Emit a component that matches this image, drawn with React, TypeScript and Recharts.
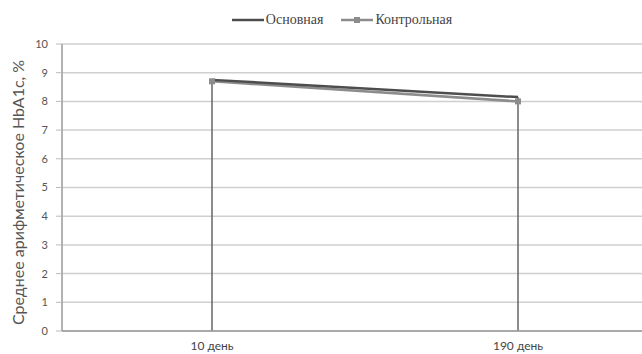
import React from "react";
import {
  CartesianGrid,
  Legend,
  Line,
  LineChart,
  ReferenceLine,
  XAxis,
  YAxis,
} from "recharts";

const CATEGORIES = ["10 день", "190 день"];
const MAIN_VALUES = [8.75, 8.15];
const CONTROL_VALUES = [8.7, 8.0];
const Y_TICKS = [0, 1, 2, 3, 4, 5, 6, 7, 8, 9, 10];
const MAIN_NAME = "Основная";
const CONTROL_NAME = "Контрольная";
const Y_LABEL = "Среднее арифметическое HbA1c, %";

const MAIN_COLOR = "#4d4d4d";
const CONTROL_COLOR = "#8c8c8c";

const data = CATEGORIES.map((day, i) => ({
  day,
  main: MAIN_VALUES[i],
  control: CONTROL_VALUES[i],
}));

function SquareDot(props: any) {
  const { cx, cy } = props;
  if (cx == null || cy == null) return null;
  return <rect x={cx - 3} y={cy - 3} width={6} height={6} fill={CONTROL_COLOR} />;
}

function LegendContent() {
  const item = (name: string, color: string, marker: boolean) => (
    <span style={{ display: "inline-flex", alignItems: "center", margin: "0 9px" }}>
      <svg width={32} height={10} style={{ marginRight: 2 }}>
        <line x1={0} y1={5} x2={32} y2={5} stroke={color} strokeWidth={2.5} />
        {marker && <rect x={13} y={2} width={6} height={6} fill={color} />}
      </svg>
      {name}
    </span>
  );
  return (
    <div
      style={{
        height: 34,
        paddingLeft: 42,
        display: "flex",
        justifyContent: "center",
        alignItems: "flex-start",
        fontFamily: "'Liberation Serif', serif",
        fontSize: 14,
        color: "#444",
        lineHeight: "20px",
      }}
    >
      {item(MAIN_NAME, MAIN_COLOR, false)}
      {item(CONTROL_NAME, CONTROL_COLOR, true)}
    </div>
  );
}

export default function App() {
  return (
    <div
      style={{
        position: "fixed",
        left: 0,
        top: 0,
        width: 642,
        height: 354,
        overflow: "hidden",
        background: "#fff",
      }}
    >
      <LineChart
        width={642}
        height={354}
        data={data}
        margin={{ top: 10, right: 0, bottom: 0, left: 0 }}
      >
        <Legend verticalAlign="top" content={<LegendContent />} />
        <CartesianGrid vertical={false} stroke="#cfcfcf" strokeWidth={1.5} />
        <XAxis
          dataKey="day"
          height={23}
          padding={{ left: 150, right: 124 }}
          tickLine={false}
          tickSize={0}
          axisLine={{ stroke: "#9a9a9a", strokeWidth: 1.5 }}
          tickMargin={10}
          tick={{ fontFamily: "Lato", fontSize: 12, fill: "#444" }}
        />
        <YAxis
          width={62}
          domain={[0, 10]}
          ticks={Y_TICKS}
          interval={0}
          tickSize={6}
          tickMargin={8}
          tickLine={{ stroke: "#bbb" }}
          axisLine={{ stroke: "#9a9a9a", strokeWidth: 1.5 }}
          tick={{ fontFamily: "Lato", fontSize: 11, fill: "#555" }}
          label={{
            value: Y_LABEL,
            angle: -90,
            position: "center",
            dx: -13,
            dy: 5,
            style: { fontFamily: "Lato", fontSize: 16, fill: "#555" },
          }}
        />
        {data.map((d) => (
          <ReferenceLine
            key={d.day}
            segment={[
              { x: d.day, y: 0 },
              { x: d.day, y: Math.max(d.main, d.control) },
            ]}
            stroke="#666"
            strokeWidth={1.5}
          />
        ))}
        <Line
          dataKey="control"
          name={CONTROL_NAME}
          stroke={CONTROL_COLOR}
          strokeWidth={2.5}
          dot={<SquareDot />}
          isAnimationActive={false}
        />
        <Line
          dataKey="main"
          name={MAIN_NAME}
          stroke={MAIN_COLOR}
          strokeWidth={2.5}
          dot={false}
          isAnimationActive={false}
        />
      </LineChart>
    </div>
  );
}
